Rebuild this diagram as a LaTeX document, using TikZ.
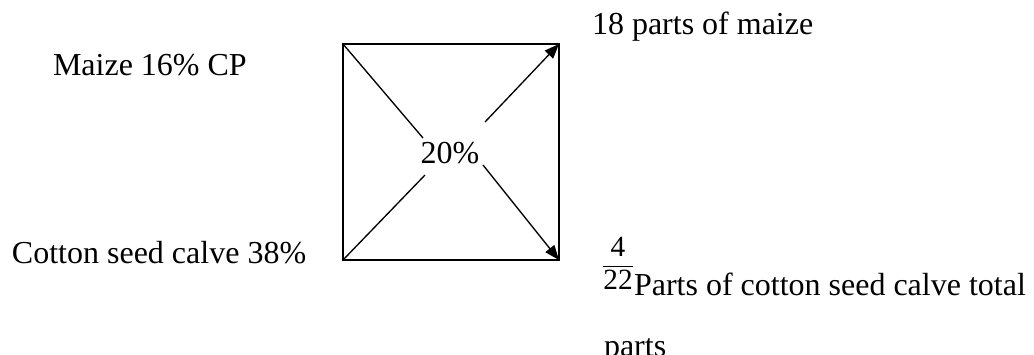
\documentclass[tikz,border=0pt]{standalone}
\usepackage{amsmath}
\usepackage{fontspec}
\setmainfont{Liberation Serif}
\usetikzlibrary{arrows.meta,positioning}
\tikzset{
	lbl/.style   = {inner sep=0pt,outer sep=0pt,
		font=\fontsize{24}{28}\selectfont},
	fracl/.style = {inner sep=0pt,outer sep=0pt,
		font=\fontsize{22}{24}\selectfont},
	sqbox/.style = {rectangle,draw=black,line width=1.5pt,
		minimum size=162pt,inner sep=0pt,outer sep=0pt},
	diag/.style  = {line width=1pt,black},
	darr/.style  = {-{Triangle[length=11pt,width=8.5pt]},line width=1pt,black},
}

\begin{document}
\begin{tikzpicture}[x=0.75pt,y=-0.75pt]
		\useasboundingbox (0,0) rectangle (1034,354);
		
		%% Carre de Pearson
		\node (sq)  [sqbox] at (451,152) {};
		\node (pct) [lbl]   at (450,153) {20\%};
		\coordinate (ulgap) at (423,138);
		\coordinate (urgap) at (485,122);
		\coordinate (llgap) at (425,175);
		\coordinate (lrgap) at (483,165);
		
		%% Ingredients
		\node (maize)  [lbl,anchor=base west] at (53,75)  {Maize 16\% CP};
		\node (cotton) [lbl,anchor=base west] at (12,263) {Cotton seed calve 38\%};
		
		%% Resultats
		\node (mzparts) [lbl,anchor=base west] at (592,34) {18 parts of maize};
		\node (frac)    [fracl,anchor=base] at (618,256)
		{\setlength{\arrayrulewidth}{1pt}%
			\begin{tabular}[t]{@{}c@{}}4\\\hline 22\end{tabular}};
		\node (csparts) [lbl,anchor=base west] at (634,295)
		{Parts of cotton seed calve total};
		\node (csend)   [lbl,anchor=base west] at (604,356) {parts};
		
		%% Fleches
		\draw[diag](sq.north west)--(ulgap);
		\draw[diag](sq.south west)--(llgap);
		\draw[darr](urgap)--(sq.north east);
		\draw[darr](lrgap)--(sq.south east);
	\end{tikzpicture}
\end{document}
